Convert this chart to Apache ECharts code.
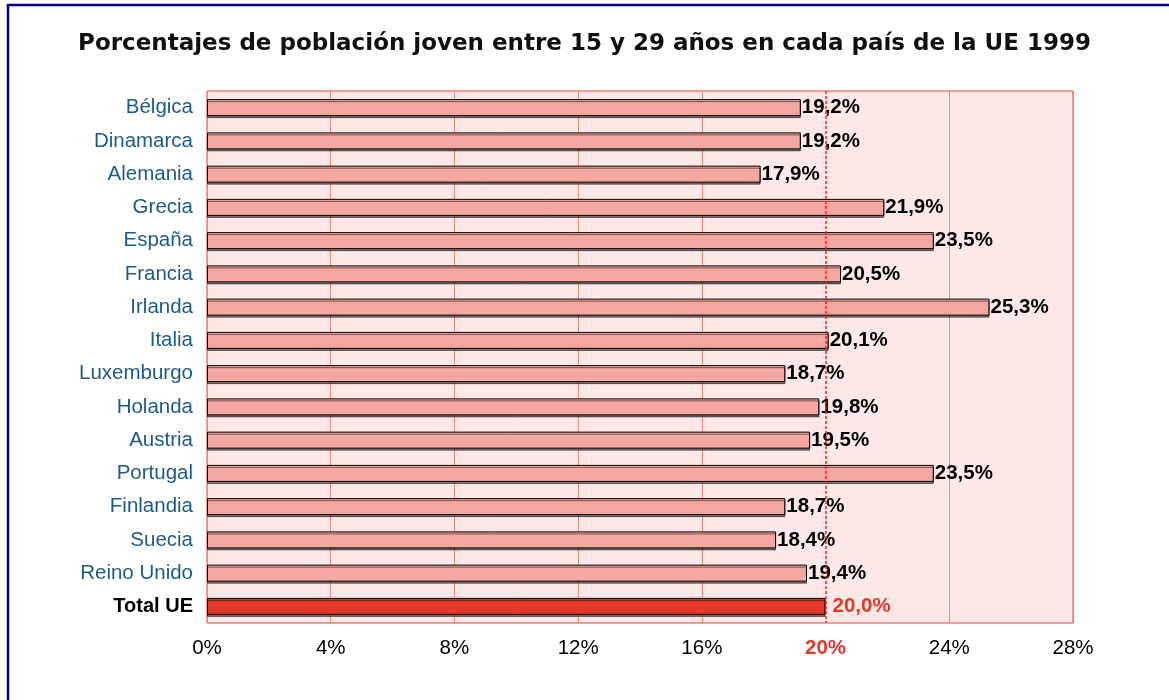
<!DOCTYPE html>
<html>
<head>
<meta charset="utf-8">
<script src="https://cdn.jsdelivr.net/npm/echarts@6/dist/echarts.min.js"></script>
<style>
  html, body { margin: 0; padding: 0; background: #fff; }
  #chart { width: 1169px; height: 700px; }
</style>
</head>
<body>
<div id="chart"></div>
<script>
// datos
var paises = ['Bélgica', 'Dinamarca', 'Alemania', 'Grecia', 'España', 'Francia', 'Irlanda', 'Italia',
  'Luxemburgo', 'Holanda', 'Austria', 'Portugal', 'Finlandia', 'Suecia', 'Reino Unido', 'Total UE'];
var porcentajes = [19.2, 19.2, 17.9, 21.9, 23.5, 20.5, 25.3, 20.1, 18.7, 19.8, 19.5, 23.5, 18.7, 18.4, 19.4, 20.0];
var mediaUE = 20;
var ticksX = [0, 4, 8, 12, 16, 20, 24, 28];

var colorBarra = '#f4a7a1';
var colorTotal = '#e5382a';
var colorRejilla = '#f2877d';

var datos = [];
for (var i = 0; i < porcentajes.length; i++) {
  var esTotal = paises[i] === 'Total UE';
  datos.push({
    value: porcentajes[i],
    itemStyle: { color: esTotal ? colorTotal : colorBarra },
    label: esTotal ? { color: '#e5382a', distance: 7 } : {}
  });
}

var coloresSplit = [];
for (var j = 0; j < ticksX.length; j++) {
  coloresSplit.push(ticksX[j] === mediaUE ? 'rgba(0,0,0,0)' : colorRejilla);
}

var myChart = echarts.init(document.getElementById('chart'));
var option = {
  backgroundColor: '#fff',
  animation: false,
  title: {
    text: 'Porcentajes de población joven entre 15 y 29 años en cada país de la UE 1999',
    left: 'center',
    top: 28,
    textStyle: { fontFamily: 'DejaVu Sans', fontWeight: 'bold', fontSize: 23, color: '#111' }
  },
  graphic: [{
    type: 'rect',
    shape: { x: 8, y: 5, width: 1400, height: 900 },
    style: { fill: 'none', stroke: '#000080', lineWidth: 2.5 },
    silent: true
  }],
  grid: {
    left: 207, right: 96, top: 91, bottom: 77,
    show: true,
    backgroundColor: '#fce8e6',
    borderColor: '#e8443a',
    borderWidth: 1
  },
  xAxis: {
    type: 'value',
    min: 0, max: 28, interval: 4,
    axisLine: { show: false },
    axisTick: { show: false },
    splitLine: { show: true, lineStyle: { color: coloresSplit, width: 1 } },
    axisLabel: {
      margin: 15,
      fontFamily: 'Liberation Sans',
      fontSize: 20.5,
      color: '#000',
      formatter: function (v) {
        if (v === mediaUE) return '{r|' + v + '%}';
        return v + '%';
      },
      rich: { r: { color: '#e5382a', fontWeight: 'bold', fontSize: 20.5, fontFamily: 'Liberation Sans' } }
    }
  },
  yAxis: {
    type: 'category',
    data: paises,
    inverse: true,
    axisLine: { show: false },
    axisTick: { show: false },
    axisLabel: {
      margin: 14,
      fontFamily: 'Liberation Sans',
      fontSize: 20.5,
      color: '#1c5a8a',
      formatter: function (v) {
        if (v === 'Total UE') return '{t|' + v + '}';
        return v;
      },
      rich: { t: { color: '#000', fontWeight: 'bold', fontSize: 20, fontFamily: 'Liberation Sans' } }
    }
  },
  series: [{
    type: 'bar',
    data: datos,
    barWidth: 17,
    itemStyle: {
      borderColor: '#000',
      borderWidth: 1,
      shadowColor: 'rgba(0,0,0,0.5)',
      shadowOffsetY: 2,
      shadowOffsetX: 0,
      shadowBlur: 0
    },
    label: {
      show: true,
      position: 'right',
      distance: 1,
      fontFamily: 'Liberation Sans',
      fontWeight: 'bold',
      fontSize: 20.5,
      color: '#000',
      formatter: function (p) {
        return p.value.toFixed(1).replace('.', ',') + '%';
      }
    },
    markLine: {
      silent: true,
      symbol: 'none',
      label: { show: false },
      lineStyle: { color: '#ff1a1a', type: [3, 2], width: 1.5, opacity: 1 },
      emphasis: { disabled: true },
      data: [{ xAxis: mediaUE, lineStyle: { color: '#ff1a1a', type: [3, 2], width: 1.5 } }]
    }
  }]
};
myChart.setOption(option);
</script>
</body>
</html>
